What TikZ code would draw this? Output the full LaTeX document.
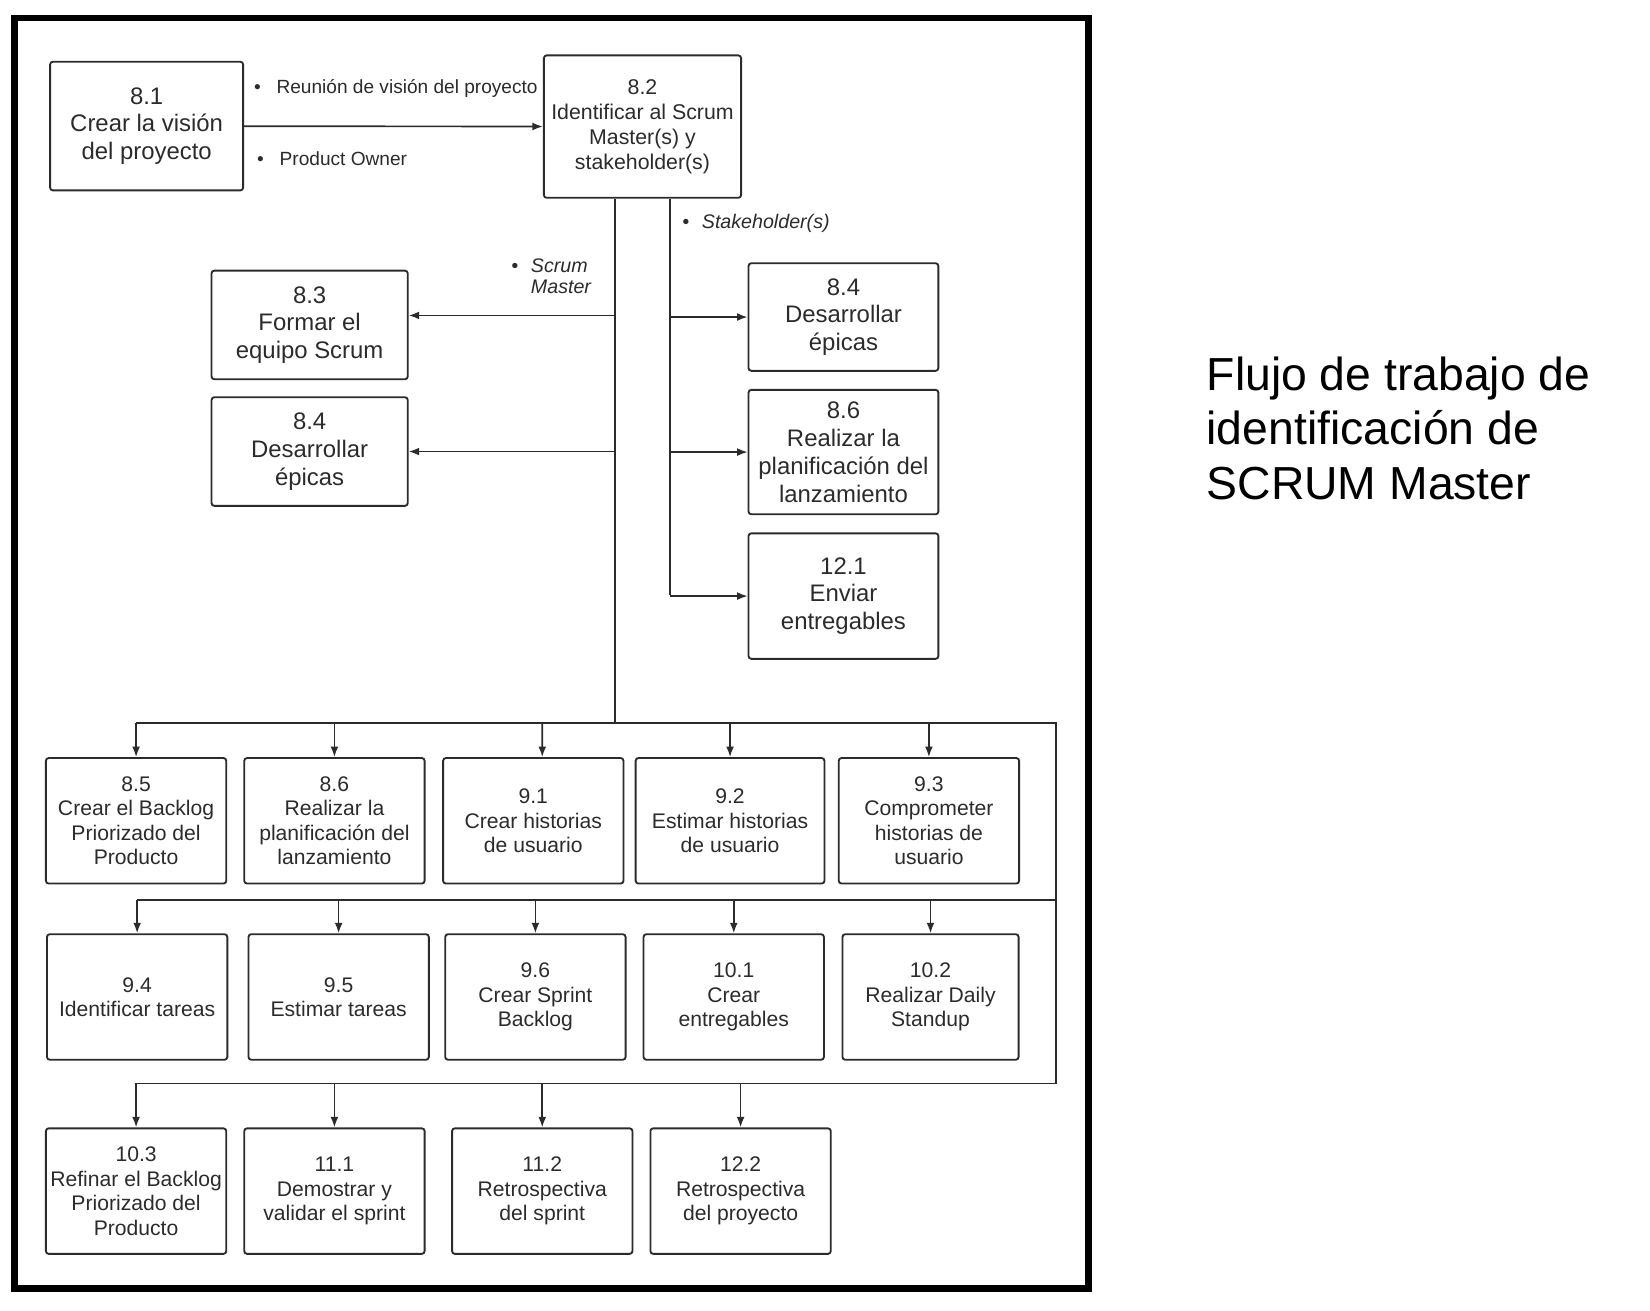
\documentclass[tikz,border=0pt]{standalone}
\usepackage{fontspec}
\setmainfont{Liberation Sans}
\usepackage{xcolor}
\usepackage{tikz}
\usetikzlibrary{shapes,arrows,arrows.meta,positioning}

\definecolor{ink}{HTML}{2B2B2B}

\begin{document}
\begin{tikzpicture}[x=0.02cm, y=-0.02cm, >={Latex[length=0.2cm,width=0.15cm]}, line width=0.9pt, color=ink,
    procbox/.style={draw, rectangle, rounded corners=1.5pt, line width=1pt, align=center, inner sep=1pt},
    bigbox/.style={procbox, font=\fontsize{12.9}{15}\selectfont},
    rowbox/.style={procbox, minimum width=3.42cm, minimum height=2.38cm, font=\fontsize{11.4}{13.2}\selectfont},
    note/.style={inner sep=0pt, anchor=west, font=\fontsize{10.3}{12.5}\selectfont}]
    \useasboundingbox (0,0) rectangle (1564,1242);
    \draw[line width=3.7pt, black] (13.5,17) rectangle (1032,1221);

    % top of the flow
    \node[bigbox, minimum width=3.66cm, minimum height=2.44cm] (p81) at (139,119.5) {8.1\\Crear la visión\\del proyecto};
    \node[procbox, minimum width=3.74cm, minimum height=2.7cm, font=\fontsize{11.5}{13.4}\selectfont] (p82) at (609,120) {8.2\\Identificar al Scrum\\Master(s) y\\stakeholder(s)};
    \draw[->] (p81) -- (p82);
    \node[note] (lreu) at (240,84) {•\hspace{0.3cm}Reunión de visión del proyecto};
    \node[note] (lpo) at (243,150) {•\hspace{0.3cm}Product Owner};

    % Scrum Master branch
    \node[bigbox, minimum width=3.72cm, minimum height=2.06cm] (p83) at (293.5,308) {8.3\\Formar el\\equipo Scrum};
    \node[bigbox, minimum width=3.72cm, minimum height=2.06cm] (p84a) at (293.5,428) {8.4\\Desarrollar\\épicas};
    \node[note, align=left, font=\fontsize{10.6}{11.5}\selectfont\itshape] (lsm) at (484,262) {•\hspace{0.24cm}Scrum\\\phantom{•\hspace{0.24cm}}Master};

    % Stakeholder branch
    \node[bigbox, minimum width=3.6cm, minimum height=2.04cm] (p84b) at (799.5,300.5) {8.4\\Desarrollar\\épicas};
    \node[bigbox, minimum width=3.6cm, minimum height=2.36cm] (p86a) at (799.5,428.5) {8.6\\Realizar la\\planificación del\\lanzamiento};
    \node[bigbox, minimum width=3.6cm, minimum height=2.38cm] (p121) at (799.5,565) {12.1\\Enviar\\entregables};
    \node[note, font=\fontsize{10.6}{12.5}\selectfont\itshape] (lsh) at (646,212) {•\hspace{0.24cm}Stakeholder(s)};

    \coordinate (sm) at (583,685);
    \coordinate (sh) at (635,564);
    \coordinate (sm1) at (583,299);
    \draw (p82.south -| sm) -- (sm);
    \draw (p82.south -| sh) -- (sh);
    \draw[->] (sm1) -- (sm1 -| p83.east);
    \draw[->] (sm |- p84a) -- (p84a);
    \foreach \n in {p84b,p86a,p121}
        \draw[->] (sh |- \n) -- (\n);

    % first row
    \node[rowbox] (p85) at (129,778) {8.5\\Crear el Backlog\\Priorizado del\\Producto};
    \node[rowbox] (p86b) at (317,778) {8.6\\Realizar la\\planificación del\\lanzamiento};
    \node[rowbox] (p91) at (505.5,778) {9.1\\Crear historias\\de usuario};
    \node[rowbox, minimum width=3.58cm] (p92) at (692,778) {9.2\\Estimar historias\\de usuario};
    \node[rowbox] (p93) at (880.5,778) {9.3\\Comprometer\\historias de\\usuario};

    % second row
    \node[rowbox] (p94) at (130,945) {9.4\\Identificar tareas};
    \node[rowbox] (p95) at (321,945) {9.5\\Estimar tareas};
    \node[rowbox] (p96) at (507.5,945) {9.6\\Crear Sprint\\Backlog};
    \node[rowbox] (p101) at (695.5,945) {10.1\\Crear\\entregables};
    \node[rowbox, minimum width=3.34cm] (p102) at (882,945) {10.2\\Realizar Daily\\Standup};

    % third row
    \node[rowbox] (p103) at (129,1129) {10.3\\Refinar el Backlog\\Priorizado del\\Producto};
    \node[rowbox] (p111) at (317,1129) {11.1\\Demostrar y\\validar el sprint};
    \node[rowbox] (p112) at (514,1129) {11.2\\Retrospectiva\\del sprint};
    \node[rowbox] (p122) at (702,1129) {12.2\\Retrospectiva\\del proyecto};

    % bus lines
    \coordinate (r1) at (1001,685);
    \coordinate (r2) at (1001,853);
    \coordinate (r3) at (1001,1027);
    \draw (r1 -| p85) -- (r1) -- (r3) -- (r3 -| p103);
    \draw (r2) -- (r2 -| p94);
    \foreach \n in {p85,p86b,p92,p93}
        \draw[->] (r1 -| \n) -- (\n);
    \draw[->] (r1 -| p91) ++(8.5,0) -- ([xshift=0.17cm]p91.north);
    \foreach \n in {p94,p95,p96,p101,p102}
        \draw[->] (r2 -| \n) -- (\n);
    \foreach \n in {p103,p111,p112,p122}
        \draw[->] (r3 -| \n) -- (\n);

    \node[anchor=west, align=left, inner sep=0pt, font=\fontsize{25}{29.6}\selectfont, text=black] (title) at (1143,406) {Flujo de trabajo de\\identificación de\\SCRUM Master};
\end{tikzpicture}
\end{document}
